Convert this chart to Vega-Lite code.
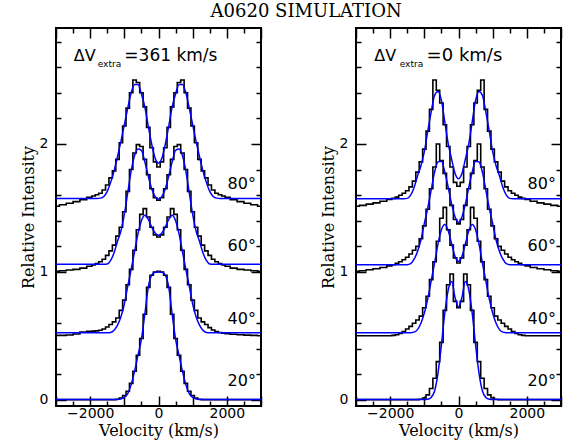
{
"$schema": "https://vega.github.io/schema/vega-lite/v6.json",
"padding": {"left": 19, "top": 3, "right": 5, "bottom": 5},
"background": "white",
"spacing": 53,
"title": {"text": "A0620 SIMULATION", "font": "DejaVu Serif", "fontSize": 18, "fontWeight": "normal", "color": "black", "anchor": "middle", "offset": 5, "dx": 14},
"config": {
  "view": {"stroke": "black", "strokeWidth": 2},
  "axis": {"labelFont": "DejaVu Sans", "labelFontSize": 14, "labelColor": "black", "titleFont": "DejaVu Serif", "titleFontSize": 16, "titleFontWeight": "normal", "titleColor": "black", "tickColor": "black", "tickWidth": 1.5, "domain": false, "grid": false}
},
"datasets": {
"L": [
{"v":-3000,"o80":1.513,"m80":1.575,"o60":1.005,"m60":1.06,"o40":0.505,"m40":0.526,"o20":0.003,"m20":0.003},
{"v":-2800,"o80":1.525,"m80":1.575,"o60":1.01,"m60":1.06,"o40":0.505,"m40":0.526,"o20":0.003,"m20":0.003},
{"v":-2600,"o80":1.537,"m80":1.575,"o60":1.015,"m60":1.06,"o40":0.508,"m40":0.526,"o20":0.003,"m20":0.003},
{"v":-2400,"o80":1.55,"m80":1.575,"o60":1.02,"m60":1.06,"o40":0.515,"m40":0.526,"o20":0.003,"m20":0.003},
{"v":-2200,"o80":1.565,"m80":1.575,"o60":1.03,"m60":1.06,"o40":0.53,"m40":0.526,"o20":0.003,"m20":0.003},
{"v":-2000,"o80":1.583,"m80":1.575,"o60":1.045,"m60":1.06,"o40":0.537,"m40":0.526,"o20":0.003,"m20":0.003},
{"v":-1900,"o80":1.593,"m80":1.575,"o60":1.055,"m60":1.06,"o40":0.538,"m40":0.526,"o20":0.003,"m20":0.003},
{"v":-1800,"o80":1.603,"m80":1.575,"o60":1.065,"m60":1.06,"o40":0.54,"m40":0.526,"o20":0.003,"m20":0.003},
{"v":-1700,"o80":1.615,"m80":1.577,"o60":1.08,"m60":1.06,"o40":0.545,"m40":0.526,"o20":0.003,"m20":0.003},
{"v":-1600,"o80":1.64,"m80":1.59,"o60":1.10,"m60":1.06,"o40":0.555,"m40":0.526,"o20":0.003,"m20":0.003},
{"v":-1500,"o80":1.68,"m80":1.63,"o60":1.13,"m60":1.062,"o40":0.57,"m40":0.526,"o20":0.003,"m20":0.003},
{"v":-1400,"o80":1.735,"m80":1.70,"o60":1.165,"m60":1.09,"o40":0.59,"m40":0.528,"o20":0.003,"m20":0.003},
{"v":-1300,"o80":1.79,"m80":1.79,"o60":1.21,"m60":1.15,"o40":0.61,"m40":0.545,"o20":0.003,"m20":0.003},
{"v":-1200,"o80":1.88,"m80":1.90,"o60":1.28,"m60":1.24,"o40":0.64,"m40":0.585,"o20":0.006,"m20":0.004},
{"v":-1100,"o80":2.01,"m80":2.02,"o60":1.35,"m60":1.32,"o40":0.70,"m40":0.65,"o20":0.015,"m20":0.008},
{"v":-1000,"o80":2.14,"m80":2.15,"o60":1.47,"m60":1.45,"o40":0.78,"m40":0.75,"o20":0.035,"m20":0.02},
{"v":-900,"o80":2.28,"m80":2.28,"o60":1.63,"m60":1.62,"o40":0.90,"m40":0.89,"o20":0.068,"m20":0.05},
{"v":-800,"o80":2.40,"m80":2.40,"o60":1.80,"m60":1.79,"o40":1.02,"m40":1.02,"o20":0.13,"m20":0.12},
{"v":-700,"o80":2.50,"m80":2.465,"o60":1.93,"m60":1.91,"o40":1.17,"m40":1.16,"o20":0.225,"m20":0.225},
{"v":-600,"o80":2.48,"m80":2.465,"o60":1.995,"m60":1.96,"o40":1.33,"m40":1.30,"o20":0.35,"m20":0.35},
{"v":-500,"o80":2.40,"m80":2.39,"o60":1.98,"m60":1.95,"o40":1.45,"m40":1.40,"o20":0.48,"m20":0.475},
{"v":-400,"o80":2.29,"m80":2.29,"o60":1.88,"m60":1.86,"o40":1.495,"m40":1.443,"o20":0.67,"m20":0.67},
{"v":-300,"o80":2.13,"m80":2.14,"o60":1.76,"m60":1.75,"o40":1.43,"m40":1.41,"o20":0.88,"m20":0.88},
{"v":-200,"o80":1.97,"m80":2.00,"o60":1.65,"m60":1.65,"o40":1.35,"m40":1.35,"o20":0.975,"m20":0.975},
{"v":-100,"o80":1.86,"m80":1.89,"o60":1.58,"m60":1.59,"o40":1.29,"m40":1.305,"o20":1.0,"m20":0.998},
{"v":0,"o80":1.82,"m80":1.85,"o60":1.56,"m60":1.57,"o40":1.273,"m40":1.287,"o20":1.005,"m20":1.0},
{"v":100,"o80":1.86,"m80":1.89,"o60":1.58,"m60":1.59,"o40":1.29,"m40":1.305,"o20":1.0,"m20":0.998},
{"v":200,"o80":1.97,"m80":2.00,"o60":1.65,"m60":1.65,"o40":1.35,"m40":1.35,"o20":0.975,"m20":0.975},
{"v":300,"o80":2.13,"m80":2.14,"o60":1.76,"m60":1.75,"o40":1.43,"m40":1.41,"o20":0.88,"m20":0.88},
{"v":400,"o80":2.29,"m80":2.29,"o60":1.88,"m60":1.86,"o40":1.495,"m40":1.443,"o20":0.67,"m20":0.67},
{"v":500,"o80":2.40,"m80":2.39,"o60":1.98,"m60":1.95,"o40":1.45,"m40":1.40,"o20":0.48,"m20":0.475},
{"v":600,"o80":2.48,"m80":2.465,"o60":1.995,"m60":1.96,"o40":1.33,"m40":1.30,"o20":0.35,"m20":0.35},
{"v":700,"o80":2.50,"m80":2.465,"o60":1.93,"m60":1.91,"o40":1.17,"m40":1.16,"o20":0.225,"m20":0.225},
{"v":800,"o80":2.40,"m80":2.40,"o60":1.80,"m60":1.79,"o40":1.02,"m40":1.02,"o20":0.13,"m20":0.12},
{"v":900,"o80":2.28,"m80":2.28,"o60":1.63,"m60":1.62,"o40":0.90,"m40":0.89,"o20":0.068,"m20":0.05},
{"v":1000,"o80":2.14,"m80":2.15,"o60":1.47,"m60":1.45,"o40":0.78,"m40":0.75,"o20":0.035,"m20":0.02},
{"v":1100,"o80":2.01,"m80":2.02,"o60":1.35,"m60":1.32,"o40":0.70,"m40":0.65,"o20":0.015,"m20":0.008},
{"v":1200,"o80":1.88,"m80":1.90,"o60":1.28,"m60":1.24,"o40":0.64,"m40":0.585,"o20":0.006,"m20":0.004},
{"v":1300,"o80":1.79,"m80":1.79,"o60":1.21,"m60":1.15,"o40":0.61,"m40":0.545,"o20":0.003,"m20":0.003},
{"v":1400,"o80":1.735,"m80":1.70,"o60":1.165,"m60":1.09,"o40":0.59,"m40":0.528,"o20":0.003,"m20":0.003},
{"v":1500,"o80":1.68,"m80":1.63,"o60":1.13,"m60":1.062,"o40":0.565,"m40":0.526,"o20":0.003,"m20":0.003},
{"v":1600,"o80":1.64,"m80":1.59,"o60":1.10,"m60":1.06,"o40":0.547,"m40":0.526,"o20":0.003,"m20":0.003},
{"v":1700,"o80":1.615,"m80":1.577,"o60":1.08,"m60":1.06,"o40":0.535,"m40":0.526,"o20":0.003,"m20":0.003},
{"v":1800,"o80":1.603,"m80":1.575,"o60":1.065,"m60":1.06,"o40":0.527,"m40":0.526,"o20":0.003,"m20":0.003},
{"v":1900,"o80":1.593,"m80":1.575,"o60":1.055,"m60":1.06,"o40":0.522,"m40":0.526,"o20":0.003,"m20":0.003},
{"v":2000,"o80":1.583,"m80":1.575,"o60":1.045,"m60":1.06,"o40":0.518,"m40":0.526,"o20":0.003,"m20":0.003},
{"v":2200,"o80":1.565,"m80":1.575,"o60":1.03,"m60":1.06,"o40":0.513,"m40":0.526,"o20":0.003,"m20":0.003},
{"v":2400,"o80":1.55,"m80":1.575,"o60":1.02,"m60":1.06,"o40":0.51,"m40":0.526,"o20":0.003,"m20":0.003},
{"v":2600,"o80":1.537,"m80":1.575,"o60":1.015,"m60":1.06,"o40":0.507,"m40":0.526,"o20":0.003,"m20":0.003},
{"v":2800,"o80":1.525,"m80":1.575,"o60":1.01,"m60":1.06,"o40":0.505,"m40":0.526,"o20":0.003,"m20":0.003},
{"v":3000,"o80":1.513,"m80":1.575,"o60":1.005,"m60":1.06,"o40":0.502,"m40":0.526,"o20":0.003,"m20":0.003}
],
"R": [
{"v":-3000,"o80":1.513,"m80":1.573,"o60":1.005,"m60":1.057,"o40":0.502,"m40":0.526,"o20":0.003,"m20":0.003},
{"v":-2800,"o80":1.52,"m80":1.573,"o60":1.01,"m60":1.057,"o40":0.502,"m40":0.526,"o20":0.003,"m20":0.003},
{"v":-2600,"o80":1.53,"m80":1.573,"o60":1.017,"m60":1.057,"o40":0.502,"m40":0.526,"o20":0.003,"m20":0.003},
{"v":-2400,"o80":1.54,"m80":1.573,"o60":1.025,"m60":1.057,"o40":0.502,"m40":0.526,"o20":0.003,"m20":0.003},
{"v":-2200,"o80":1.552,"m80":1.573,"o60":1.035,"m60":1.057,"o40":0.502,"m40":0.526,"o20":0.003,"m20":0.003},
{"v":-2000,"o80":1.567,"m80":1.573,"o60":1.048,"m60":1.057,"o40":0.502,"m40":0.526,"o20":0.003,"m20":0.003},
{"v":-1900,"o80":1.575,"m80":1.573,"o60":1.057,"m60":1.057,"o40":0.505,"m40":0.526,"o20":0.003,"m20":0.003},
{"v":-1800,"o80":1.585,"m80":1.573,"o60":1.067,"m60":1.057,"o40":0.51,"m40":0.526,"o20":0.003,"m20":0.003},
{"v":-1700,"o80":1.60,"m80":1.573,"o60":1.08,"m60":1.057,"o40":0.52,"m40":0.526,"o20":0.003,"m20":0.003},
{"v":-1600,"o80":1.615,"m80":1.573,"o60":1.095,"m60":1.057,"o40":0.535,"m40":0.526,"o20":0.003,"m20":0.003},
{"v":-1500,"o80":1.635,"m80":1.575,"o60":1.115,"m60":1.057,"o40":0.555,"m40":0.526,"o20":0.003,"m20":0.003},
{"v":-1400,"o80":1.665,"m80":1.60,"o60":1.14,"m60":1.065,"o40":0.575,"m40":0.526,"o20":0.003,"m20":0.003},
{"v":-1300,"o80":1.71,"m80":1.66,"o60":1.17,"m60":1.10,"o40":0.60,"m40":0.53,"o20":0.003,"m20":0.003},
{"v":-1200,"o80":1.78,"m80":1.75,"o60":1.20,"m60":1.16,"o40":0.625,"m40":0.55,"o20":0.003,"m20":0.003},
{"v":-1100,"o80":1.86,"m80":1.83,"o60":1.26,"m60":1.25,"o40":0.655,"m40":0.60,"o20":0.006,"m20":0.003},
{"v":-1000,"o80":1.96,"m80":1.94,"o60":1.36,"m60":1.38,"o40":0.72,"m40":0.68,"o20":0.015,"m20":0.003},
{"v":-900,"o80":2.10,"m80":2.10,"o60":1.49,"m60":1.50,"o40":0.81,"m40":0.79,"o20":0.04,"m20":0.006},
{"v":-800,"o80":2.27,"m80":2.25,"o60":1.65,"m60":1.64,"o40":0.94,"m40":0.93,"o20":0.09,"m20":0.02},
{"v":-700,"o80":2.50,"m80":2.38,"o60":1.82,"m60":1.78,"o40":1.08,"m40":1.07,"o20":0.17,"m20":0.07},
{"v":-600,"o80":2.42,"m80":2.41,"o60":2.0,"m60":1.86,"o40":1.24,"m40":1.22,"o20":0.30,"m20":0.21},
{"v":-500,"o80":2.32,"m80":2.34,"o60":1.87,"m60":1.865,"o40":1.42,"m40":1.33,"o20":0.45,"m20":0.43},
{"v":-400,"o80":2.15,"m80":2.17,"o60":1.77,"m60":1.78,"o40":1.505,"m40":1.37,"o20":0.70,"m20":0.68},
{"v":-300,"o80":1.98,"m80":2.00,"o60":1.65,"m60":1.66,"o40":1.33,"m40":1.32,"o20":0.90,"m20":0.86},
{"v":-200,"o80":1.82,"m80":1.88,"o60":1.52,"m60":1.53,"o40":1.21,"m40":1.22,"o20":0.984,"m20":0.925},
{"v":-100,"o80":1.70,"m80":1.77,"o60":1.41,"m60":1.43,"o40":1.11,"m40":1.12,"o20":0.77,"m20":0.80},
{"v":0,"o80":1.67,"m80":1.729,"o60":1.376,"m60":1.388,"o40":1.07,"m40":1.083,"o20":0.72,"m20":0.727},
{"v":100,"o80":1.70,"m80":1.77,"o60":1.41,"m60":1.43,"o40":1.11,"m40":1.12,"o20":0.77,"m20":0.80},
{"v":200,"o80":1.82,"m80":1.88,"o60":1.52,"m60":1.53,"o40":1.21,"m40":1.22,"o20":0.984,"m20":0.925},
{"v":300,"o80":1.98,"m80":2.00,"o60":1.65,"m60":1.66,"o40":1.33,"m40":1.32,"o20":0.90,"m20":0.86},
{"v":400,"o80":2.15,"m80":2.17,"o60":1.77,"m60":1.78,"o40":1.505,"m40":1.37,"o20":0.70,"m20":0.68},
{"v":500,"o80":2.32,"m80":2.34,"o60":1.87,"m60":1.865,"o40":1.42,"m40":1.33,"o20":0.45,"m20":0.43},
{"v":600,"o80":2.42,"m80":2.41,"o60":2.0,"m60":1.86,"o40":1.24,"m40":1.22,"o20":0.30,"m20":0.21},
{"v":700,"o80":2.50,"m80":2.38,"o60":1.82,"m60":1.78,"o40":1.08,"m40":1.07,"o20":0.17,"m20":0.07},
{"v":800,"o80":2.27,"m80":2.25,"o60":1.65,"m60":1.64,"o40":0.94,"m40":0.93,"o20":0.09,"m20":0.02},
{"v":900,"o80":2.10,"m80":2.10,"o60":1.49,"m60":1.50,"o40":0.81,"m40":0.79,"o20":0.04,"m20":0.006},
{"v":1000,"o80":1.96,"m80":1.94,"o60":1.36,"m60":1.38,"o40":0.72,"m40":0.68,"o20":0.015,"m20":0.003},
{"v":1100,"o80":1.86,"m80":1.83,"o60":1.26,"m60":1.25,"o40":0.655,"m40":0.60,"o20":0.006,"m20":0.003},
{"v":1200,"o80":1.78,"m80":1.75,"o60":1.20,"m60":1.16,"o40":0.625,"m40":0.55,"o20":0.003,"m20":0.003},
{"v":1300,"o80":1.71,"m80":1.66,"o60":1.17,"m60":1.10,"o40":0.60,"m40":0.53,"o20":0.003,"m20":0.003},
{"v":1400,"o80":1.665,"m80":1.60,"o60":1.14,"m60":1.065,"o40":0.575,"m40":0.526,"o20":0.003,"m20":0.003},
{"v":1500,"o80":1.635,"m80":1.575,"o60":1.115,"m60":1.057,"o40":0.555,"m40":0.526,"o20":0.003,"m20":0.003},
{"v":1600,"o80":1.615,"m80":1.573,"o60":1.095,"m60":1.057,"o40":0.535,"m40":0.526,"o20":0.003,"m20":0.003},
{"v":1700,"o80":1.60,"m80":1.573,"o60":1.08,"m60":1.057,"o40":0.52,"m40":0.526,"o20":0.003,"m20":0.003},
{"v":1800,"o80":1.585,"m80":1.573,"o60":1.067,"m60":1.057,"o40":0.51,"m40":0.526,"o20":0.003,"m20":0.003},
{"v":1900,"o80":1.575,"m80":1.573,"o60":1.057,"m60":1.057,"o40":0.505,"m40":0.526,"o20":0.003,"m20":0.003},
{"v":2000,"o80":1.567,"m80":1.573,"o60":1.048,"m60":1.057,"o40":0.502,"m40":0.526,"o20":0.003,"m20":0.003},
{"v":2200,"o80":1.552,"m80":1.573,"o60":1.035,"m60":1.057,"o40":0.502,"m40":0.526,"o20":0.003,"m20":0.003},
{"v":2400,"o80":1.54,"m80":1.573,"o60":1.025,"m60":1.057,"o40":0.502,"m40":0.526,"o20":0.003,"m20":0.003},
{"v":2600,"o80":1.53,"m80":1.573,"o60":1.017,"m60":1.057,"o40":0.502,"m40":0.526,"o20":0.003,"m20":0.003},
{"v":2800,"o80":1.52,"m80":1.573,"o60":1.01,"m60":1.057,"o40":0.502,"m40":0.526,"o20":0.003,"m20":0.003},
{"v":3000,"o80":1.513,"m80":1.573,"o60":1.005,"m60":1.057,"o40":0.502,"m40":0.526,"o20":0.003,"m20":0.003}
],
"angles": [
{"v":2850,"I":1.6875,"t":"80°"},
{"v":2850,"I":1.2,"t":"60°"},
{"v":2850,"I":0.633,"t":"40°"},
{"v":2850,"I":0.146,"t":"20°"}
]
},
"hconcat": [
{
"width": 205, "height": 378,
"resolve": {"axis": {"x": "independent", "y": "independent"}},
"layer": [
{
"data": {"name": "L"},
"transform": [{"fold": ["o80","o60","o40","o20"], "as": ["curve","I"]}],
"mark": {"type": "line", "interpolate": "step", "color": "black", "strokeWidth": 1.6},
"encoding": {
"x": {"field": "v", "type": "quantitative", "scale": {"domain": [-3000,3000], "nice": false, "zero": false},
 "axis": {"orient": "bottom", "values": [-3000,-2000,-1000,0,1000,2000,3000], "format": "d", "labelExpr": "datum.value % 2000 === 0 ? datum.label : ''", "tickSize": 10, "offset": -10, "labelPadding": 0, "title": "Velocity (km/s)", "titlePadding": 2}},
"y": {"field": "I", "type": "quantitative", "scale": {"domain": [-0.047,2.906], "nice": false, "zero": false},
 "axis": {"orient": "left", "values": [0,1,2], "format": "d", "tickSize": 10, "offset": -10, "labelPadding": 8, "title": "Relative Intensity", "titlePadding": 3}},
"detail": {"field": "curve"}
}
},
{
"data": {"name": "L"},
"transform": [{"fold": ["m80","m60","m40","m20"], "as": ["curve","I"]}],
"mark": {"type": "line", "interpolate": "monotone", "color": "#0000ff", "strokeWidth": 1.5},
"encoding": {
"x": {"field": "v", "type": "quantitative",
 "axis": {"orient": "top", "values": [-3000,-2000,-1000,0,1000,2000,3000], "labels": false, "title": null, "tickSize": 10, "offset": -10}},
"y": {"field": "I", "type": "quantitative",
 "axis": {"orient": "right", "values": [0,1,2], "labels": false, "title": null, "tickSize": 10, "offset": -10}},
"detail": {"field": "curve"}
}
},
{
"data": {"name": "angles"},
"mark": {"type": "text", "align": "right", "baseline": "middle", "font": "DejaVu Sans", "fontSize": 16, "color": "black"},
"encoding": {"x": {"field": "v", "type": "quantitative", "axis": {"orient": "bottom", "values": [-2500,-1500,-500,500,1500,2500], "labels": false, "title": null, "tickSize": 5, "offset": -5}},
 "y": {"field": "I", "type": "quantitative", "axis": {"orient": "left", "values": [0.2,0.4,0.6,0.8,1.2,1.4,1.6,1.8,2.2,2.4,2.6,2.8], "labels": false, "title": null, "tickSize": 5, "offset": -5}}, "text": {"field": "t"}}
},
{
"data": {"values": [{"v": -2482, "I": 2.6875, "t": "ΔV", "s": 16, "w": "normal"}, {"v": -1779, "I": 2.625, "t": "extra", "s": 9, "w": "bold"}, {"v": -1000, "I": 2.6875, "t": "=361 km/s", "s": 17, "w": "normal"}]},
"mark": {"type": "text", "align": "left", "baseline": "middle", "font": "DejaVu Sans", "color": "black"},
"encoding": {"x": {"field": "v", "type": "quantitative", "axis": {"orient": "top", "values": [-2500,-1500,-500,500,1500,2500], "labels": false, "title": null, "tickSize": 5, "offset": -5}},
 "y": {"field": "I", "type": "quantitative", "axis": {"orient": "right", "values": [0.2,0.4,0.6,0.8,1.2,1.4,1.6,1.8,2.2,2.4,2.6,2.8], "labels": false, "title": null, "tickSize": 5, "offset": -5}},
 "text": {"field": "t"}, "size": {"field": "s", "type": "quantitative", "scale": null}, "fontWeight": {"field": "w", "type": "nominal", "scale": null}}
}
]
},
{
"width": 205, "height": 378,
"resolve": {"axis": {"x": "independent", "y": "independent"}},
"layer": [
{
"data": {"name": "R"},
"transform": [{"fold": ["o80","o60","o40","o20"], "as": ["curve","I"]}],
"mark": {"type": "line", "interpolate": "step", "color": "black", "strokeWidth": 1.6},
"encoding": {
"x": {"field": "v", "type": "quantitative", "scale": {"domain": [-3000,3000], "nice": false, "zero": false},
 "axis": {"orient": "bottom", "values": [-3000,-2000,-1000,0,1000,2000,3000], "format": "d", "labelExpr": "datum.value % 2000 === 0 ? datum.label : ''", "tickSize": 10, "offset": -10, "labelPadding": 0, "title": "Velocity (km/s)", "titlePadding": 2}},
"y": {"field": "I", "type": "quantitative", "scale": {"domain": [-0.047,2.906], "nice": false, "zero": false},
 "axis": {"orient": "left", "values": [0,1,2], "format": "d", "tickSize": 10, "offset": -10, "labelPadding": 8, "title": "Relative Intensity", "titlePadding": 3}},
"detail": {"field": "curve"}
}
},
{
"data": {"name": "R"},
"transform": [{"fold": ["m80","m60","m40","m20"], "as": ["curve","I"]}],
"mark": {"type": "line", "interpolate": "monotone", "color": "#0000ff", "strokeWidth": 1.5},
"encoding": {
"x": {"field": "v", "type": "quantitative",
 "axis": {"orient": "top", "values": [-3000,-2000,-1000,0,1000,2000,3000], "labels": false, "title": null, "tickSize": 10, "offset": -10}},
"y": {"field": "I", "type": "quantitative",
 "axis": {"orient": "right", "values": [0,1,2], "labels": false, "title": null, "tickSize": 10, "offset": -10}},
"detail": {"field": "curve"}
}
},
{
"data": {"name": "angles"},
"mark": {"type": "text", "align": "right", "baseline": "middle", "font": "DejaVu Sans", "fontSize": 16, "color": "black"},
"encoding": {"x": {"field": "v", "type": "quantitative", "axis": {"orient": "bottom", "values": [-2500,-1500,-500,500,1500,2500], "labels": false, "title": null, "tickSize": 5, "offset": -5}},
 "y": {"field": "I", "type": "quantitative", "axis": {"orient": "left", "values": [0.2,0.4,0.6,0.8,1.2,1.4,1.6,1.8,2.2,2.4,2.6,2.8], "labels": false, "title": null, "tickSize": 5, "offset": -5}}, "text": {"field": "t"}}
},
{
"data": {"values": [{"v": -2463, "I": 2.6875, "t": "ΔV", "s": 16, "w": "normal"}, {"v": -1720, "I": 2.625, "t": "extra", "s": 9, "w": "bold"}, {"v": -933, "I": 2.6875, "t": "=0 km/s", "s": 18, "w": "normal"}]},
"mark": {"type": "text", "align": "left", "baseline": "middle", "font": "DejaVu Sans", "color": "black"},
"encoding": {"x": {"field": "v", "type": "quantitative", "axis": {"orient": "top", "values": [-2500,-1500,-500,500,1500,2500], "labels": false, "title": null, "tickSize": 5, "offset": -5}},
 "y": {"field": "I", "type": "quantitative", "axis": {"orient": "right", "values": [0.2,0.4,0.6,0.8,1.2,1.4,1.6,1.8,2.2,2.4,2.6,2.8], "labels": false, "title": null, "tickSize": 5, "offset": -5}},
 "text": {"field": "t"}, "size": {"field": "s", "type": "quantitative", "scale": null}, "fontWeight": {"field": "w", "type": "nominal", "scale": null}}
}
]
}
]
}
